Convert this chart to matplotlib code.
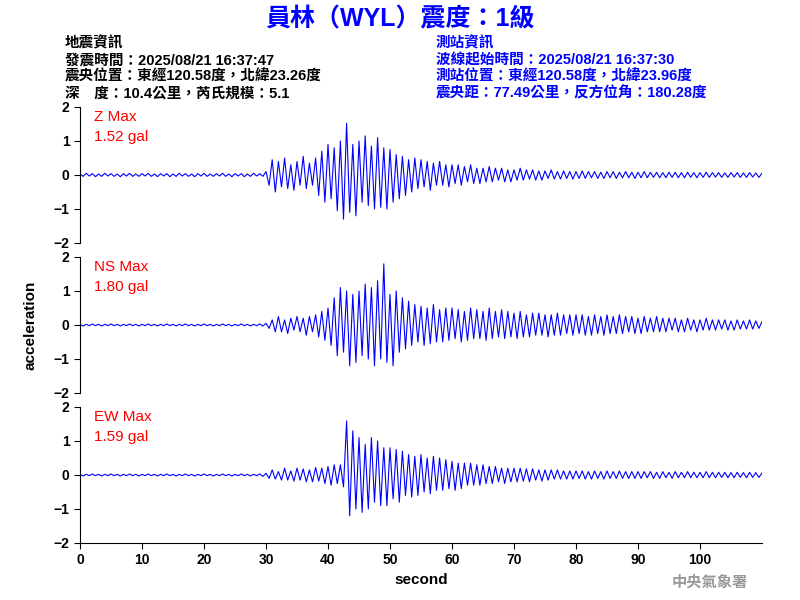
import numpy as np
import matplotlib
matplotlib.use("Agg")
import matplotlib.pyplot as plt

plt.rcParams['font.family'] = ['Liberation Sans', 'Noto Sans CJK TC', 'DejaVu Sans']

# samples every 0.5 s (peak-to-peak swings)
step = 0.5
z_vals = [
    0.03, -0.04, 0.05, -0.03, 0.04, -0.05, 0.03, -0.04, 0.05, -0.03, 0.04, -0.04, 0.03, -0.05, 0.04, -0.03, 0.05, -0.04, 0.03, -0.04,
    0.04, -0.03, 0.05, -0.04, 0.03, -0.05, 0.04, -0.03, 0.04, -0.05, 0.03, -0.04, 0.05, -0.03, 0.04, -0.04, 0.03, -0.05, 0.04, -0.03,
    0.05, -0.04, 0.03, -0.04, 0.04, -0.03, 0.05, -0.04, 0.03, -0.05, 0.04, -0.03, 0.04, -0.05, 0.03, -0.04, 0.05, -0.03, 0.04, -0.04,
    0.1, -0.3, 0.45, -0.5, 0.4, -0.35, 0.5, -0.4, 0.3, -0.45, 0.4, -0.3, 0.55, -0.4, 0.35, -0.3, 0.5, -0.6, 0.7, -0.8,
    0.9, -0.7, 0.8, -1.05, 1.0, -1.3, 1.52, -1.1, 0.9, -1.2, 1.0, -0.8, 1.15, -0.9, 0.85, -1.0, 1.1, -0.95, 0.8, -1.0,
    0.75, -0.8, 0.6, -0.7, 0.55, -0.6, 0.45, -0.5, 0.5, -0.4, 0.45, -0.35, 0.4, -0.45, 0.35, -0.3, 0.4, -0.3, 0.3, -0.35,
    0.3, -0.25, 0.3, -0.3, 0.25, -0.2, 0.3, -0.25, 0.2, -0.25, 0.2, -0.2, 0.25, -0.2, 0.2, -0.15, 0.2, -0.2, 0.15, -0.2,
    0.15, -0.15, 0.2, -0.15, 0.15, -0.12, 0.15, -0.15, 0.12, -0.15, 0.12, -0.1, 0.15, -0.12, 0.1, -0.12, 0.12, -0.1, 0.1, -0.12,
    0.1, -0.1, 0.12, -0.1, 0.1, -0.08, 0.1, -0.1, 0.08, -0.1, 0.1, -0.08, 0.1, -0.1, 0.08, -0.08, 0.1, -0.08, 0.08, -0.1,
    0.08, -0.08, 0.1, -0.08, 0.08, -0.07, 0.08, -0.08, 0.07, -0.08, 0.08, -0.07, 0.08, -0.08, 0.07, -0.08, 0.08, -0.07, 0.07, -0.08,
    0.07, -0.07, 0.08, -0.07, 0.07, -0.06, 0.07, -0.07, 0.06, -0.07, 0.07, -0.06, 0.07, -0.07, 0.06, -0.07, 0.07, -0.06, 0.06, -0.07,
    0.05,
]
ns_vals = [
    0.02, -0.03, 0.02, -0.02, 0.03, -0.02, 0.02, -0.03, 0.02, -0.02, 0.03, -0.02, 0.02, -0.03, 0.02, -0.02, 0.03, -0.02, 0.02, -0.03,
    0.02, -0.02, 0.03, -0.02, 0.02, -0.03, 0.02, -0.02, 0.03, -0.02, 0.02, -0.03, 0.02, -0.02, 0.03, -0.02, 0.02, -0.03, 0.02, -0.02,
    0.03, -0.02, 0.02, -0.03, 0.02, -0.02, 0.03, -0.02, 0.02, -0.03, 0.02, -0.02, 0.03, -0.02, 0.02, -0.03, 0.02, -0.02, 0.03, -0.03,
    0.05, -0.1, 0.15, -0.2, 0.25, -0.2, 0.15, -0.25, 0.2, -0.15, 0.25, -0.2, 0.2, -0.3, 0.25, -0.2, 0.3, -0.35, 0.4, -0.45,
    0.5, -0.6, 0.8, -0.9, 1.1, -0.8, 1.0, -1.2, 0.9, -1.1, 1.0, -0.9, 1.2, -1.0, 1.1, -1.2, 1.3, -1.0, 1.80, -1.1,
    0.9, -1.2, 1.0, -0.8, 0.8, -0.7, 0.7, -0.6, 0.6, -0.5, 0.55, -0.6, 0.5, -0.55, 0.6, -0.5, 0.45, -0.5, 0.5, -0.45,
    0.5, -0.4, 0.45, -0.5, 0.4, -0.45, 0.5, -0.4, 0.45, -0.4, 0.4, -0.45, 0.5, -0.4, 0.4, -0.35, 0.45, -0.4, 0.4, -0.35,
    0.35, -0.4, 0.4, -0.35, 0.3, -0.35, 0.35, -0.3, 0.35, -0.3, 0.3, -0.35, 0.3, -0.3, 0.35, -0.3, 0.3, -0.25, 0.3, -0.3,
    0.3, -0.25, 0.3, -0.3, 0.25, -0.3, 0.3, -0.25, 0.25, -0.3, 0.3, -0.25, 0.25, -0.25, 0.3, -0.25, 0.25, -0.2, 0.25, -0.25,
    0.2, -0.25, 0.25, -0.2, 0.2, -0.2, 0.25, -0.2, 0.2, -0.2, 0.2, -0.15, 0.2, -0.2, 0.15, -0.2, 0.2, -0.15, 0.15, -0.2,
    0.15, -0.15, 0.2, -0.15, 0.15, -0.15, 0.15, -0.12, 0.15, -0.15, 0.12, -0.15, 0.15, -0.12, 0.12, -0.12, 0.15, -0.12, 0.12, -0.1,
    0.1,
]
ew_vals = [
    0.02, -0.03, 0.02, -0.02, 0.03, -0.02, 0.02, -0.03, 0.02, -0.02, 0.03, -0.02, 0.02, -0.03, 0.02, -0.02, 0.03, -0.02, 0.02, -0.03,
    0.02, -0.02, 0.03, -0.02, 0.02, -0.03, 0.02, -0.02, 0.03, -0.02, 0.02, -0.03, 0.02, -0.02, 0.03, -0.02, 0.02, -0.03, 0.02, -0.02,
    0.03, -0.02, 0.02, -0.03, 0.02, -0.02, 0.03, -0.02, 0.02, -0.03, 0.02, -0.02, 0.03, -0.02, 0.02, -0.03, 0.02, -0.02, 0.03, -0.04,
    0.05, -0.1, 0.15, -0.12, 0.1, -0.15, 0.2, -0.15, 0.12, -0.18, 0.2, -0.15, 0.18, -0.2, 0.15, -0.2, 0.22, -0.18, 0.2, -0.25,
    0.25, -0.3, 0.3, -0.25, 0.3, -0.35, 1.59, -1.2, 1.3, -1.0, 1.1, -1.1, 0.9, -1.0, 1.1, -0.8, 1.0, -0.9, 0.8, -0.9,
    0.8, -0.7, 0.75, -0.8, 0.7, -0.6, 0.6, -0.65, 0.55, -0.6, 0.6, -0.5, 0.5, -0.55, 0.55, -0.45, 0.5, -0.45, 0.45, -0.4,
    0.4, -0.45, 0.35, -0.4, 0.35, -0.3, 0.35, -0.3, 0.3, -0.3, 0.3, -0.25, 0.25, -0.25, 0.25, -0.2, 0.2, -0.25, 0.2, -0.2,
    0.2, -0.2, 0.2, -0.18, 0.18, -0.2, 0.18, -0.15, 0.15, -0.18, 0.15, -0.15, 0.15, -0.12, 0.15, -0.12, 0.12, -0.12, 0.12, -0.12,
    0.12, -0.1, 0.12, -0.12, 0.1, -0.12, 0.12, -0.1, 0.1, -0.12, 0.12, -0.1, 0.1, -0.1, 0.12, -0.1, 0.1, -0.1, 0.1, -0.1,
    0.1, -0.1, 0.1, -0.08, 0.1, -0.1, 0.08, -0.1, 0.1, -0.08, 0.08, -0.1, 0.1, -0.08, 0.08, -0.08, 0.1, -0.08, 0.08, -0.08,
    0.08, -0.08, 0.1, -0.08, 0.08, -0.08, 0.08, -0.07, 0.08, -0.08, 0.07, -0.08, 0.08, -0.07, 0.07, -0.08, 0.08, -0.07, 0.07, -0.07,
    0.06,
]
labels = ['Z Max', 'NS Max', 'EW Max']
peaks = ['1.52 gal', '1.80 gal', '1.59 gal']
traces = [z_vals, ns_vals, ew_vals]

fig = plt.figure(figsize=(8, 6), dpi=100)
blue = '#0000ff'
red = '#ff0000'

fig.text(0.5, 0.968, '員林（WYL）震度：1級', ha='center', va='center', fontsize=18,
         fontweight='bold', color=blue)
left_lines = ['地震資訊', '發震時間：2025/08/21 16:37:47', '震央位置：東經120.58度，北緯23.26度',
              '深　度：10.4公里，芮氏規模：5.1']
right_lines = ['測站資訊', '波線起始時間：2025/08/21 16:37:30', '測站位置：東經120.58度，北緯23.96度',
               '震央距：77.49公里，反方位角：180.28度']
for i, (l, r) in enumerate(zip(left_lines, right_lines)):
    y = 0.927 - i * 0.0275
    fig.text(0.081, y, l, fontsize=10.5, fontweight='bold', va='center')
    fig.text(0.545, y, r, fontsize=10.5, fontweight='bold', va='center', color=blue)

tops = [107, 257, 407]
for k, (vals, lab, pk, top) in enumerate(zip(traces, labels, peaks, tops)):
    ax = fig.add_axes([80 / 800, 1 - (top + 136) / 600, 682 / 800, 136 / 600])
    t = np.arange(len(vals)) * step
    ax.plot(t, vals, color=blue, lw=0.8)
    ax.set_xlim(0, 110)
    ax.set_ylim(-2, 2)
    ax.set_yticks([-2, -1, 0, 1, 2])
    ax.spines['top'].set_visible(False)
    ax.spines['right'].set_visible(False)
    ax.tick_params(labelsize=10, length=4)
    for tl in ax.get_yticklabels() + ax.get_xticklabels():
        tl.set_fontweight('bold')
    ax.text(0.02, 0.93, lab, transform=ax.transAxes, color=red, fontsize=11, va='center')
    ax.text(0.02, 0.78, pk, transform=ax.transAxes, color=red, fontsize=11, va='center')
    if k < 2:
        ax.spines['bottom'].set_visible(False)
        ax.set_xticks([])
    else:
        ax.set_xticks(range(0, 101, 10))
        for tl in ax.get_xticklabels():
            tl.set_fontweight('bold')
        ax.set_xlabel('second', fontsize=11, fontweight='bold')
    if k == 1:
        ax.set_ylabel('acceleration', fontsize=11, fontweight='bold', labelpad=12)

fig.text(0.935, 0.03, '中央氣象署', ha='right', va='center', fontsize=11, fontweight='bold',
         color='#999999')
fig.savefig('out.png', dpi=100)
